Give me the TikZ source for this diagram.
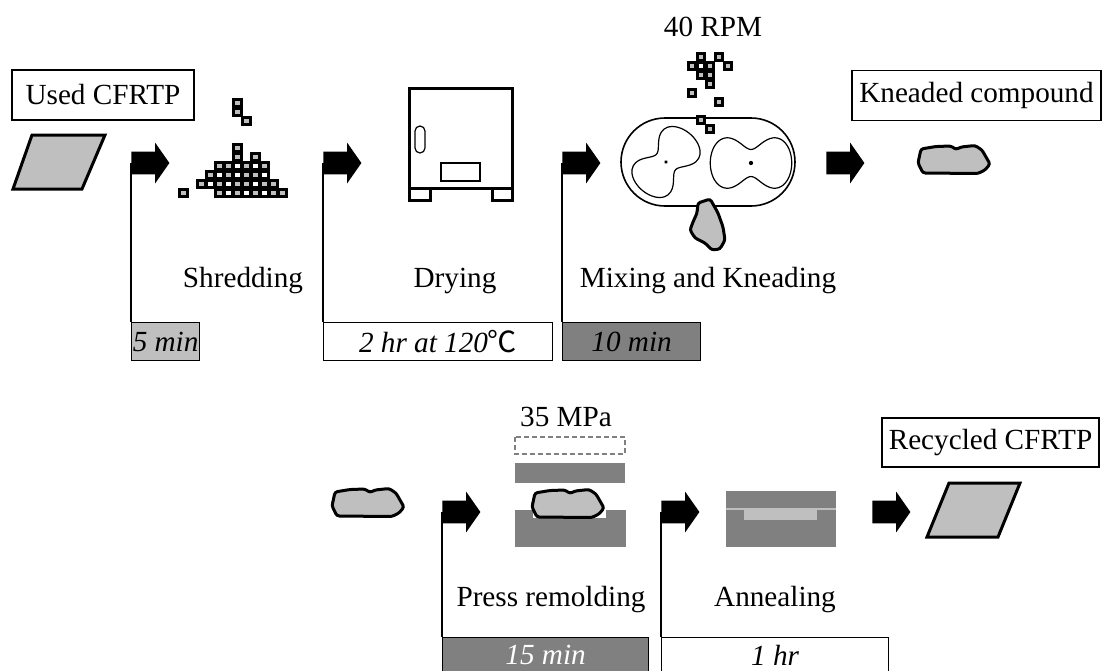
\documentclass[tikz,border=0pt]{standalone}
\usepackage{fontspec}
\setmainfont{Liberation Serif}
\newfontfamily\cjk{Noto Sans CJK JP}
\usetikzlibrary{shapes.arrows}

\definecolor{pale}{gray}{0.75}
\definecolor{dim}{gray}{0.5}

\begin{document}
\begin{tikzpicture}[x=0.5pt, y=-0.5pt,
  every node/.style={font=\fontsize{14.6}{16}\selectfont, inner sep=0pt},
  tag/.style={draw, line width=0.6pt, minimum height=25pt},
  timebar/.style={draw, line width=0.6pt, anchor=north west, minimum height=19pt, font=\fontsize{14.6}{16}\selectfont\itshape},
  flow/.style={single arrow, fill=black, anchor=tail, minimum height=19pt, inner xsep=0pt, inner ysep=5.5pt, single arrow head extend=4.5pt, single arrow tip angle=110},
  flag/.style={line width=0.6pt},
  bit/.style={draw, line width=1.5pt},
  chunk/.style={draw, line width=1.5pt, fill=pale, rounded corners=1.2pt},
  plate/.style={draw, line width=1.5pt, fill=pale},
  declare function={lobe(\t)=sqrt(8.462*cos(2*\t)+sqrt(84.29-71.61*sin(2*\t)^2));},
  lump/.pic={\draw[chunk] (3,4) -- (18,1.5) -- (33,1) -- (38,4.5) -- (43,2) -- (57,0.5) -- (64,5) -- (72,19) -- (67,25) -- (60,28.5) -- (5,28) -- (0,18) -- cycle;},
  rotor/.pic={\draw[line width=0.6pt] plot[domain=0:355, samples=72, smooth cycle] ({10*lobe(\x)*cos(\x)}, {16.5*lobe(\x)*sin(\x)});
    \fill (0,0) circle (1.1pt);},
  ]
\useasboundingbox (0,0) rectangle (1103,670);

% first row: shredding, drying, kneading
\node[tag, minimum width=91pt] (used) at (103,95) {Used CFRTP};
\draw[plate] (32,135) -- (105,135) -- (82,189) -- (13,189) -- cycle;

\node[flow] (a1) at (131,163) {};
\node[flow] (a2) at (323,163) {};
\node[flow] (a3) at (562,163) {};
\node[flow] (a4) at (826,163) {};

% shredded pieces
\foreach \i/\j/\c in {4/-5/pale, 4/-4/pale, 5/-3/pale,
    4/0/pale, 4/1/pale, 6/1/pale,
    2/2/pale, 3/2/pale, 4/2/white, 5/2/pale, 6/2/white, 7/2/pale,
    1/3/pale, 2/3/white, 3/3/pale, 4/3/white, 5/3/pale, 6/3/pale, 7/3/white,
    0/4/pale, 1/4/white, 2/4/pale, 3/4/white, 4/4/pale, 5/4/pale, 6/4/white, 7/4/pale, 8/4/pale,
    2/5/pale, 3/5/white, 4/5/pale, 5/5/white, 6/5/pale, 7/5/white, 8/5/pale, 9/5/pale, -2/5/pale}
  \filldraw[bit, fill=\c] ({197.5+9*\i},{144+9*\j}) rectangle +(7.5,7.5);
\node (shred) at (243,281) {Shredding};

% oven
\draw[line width=1.5pt] (409,88) rectangle (512,188);
\draw[line width=1.5pt] (409,188) rectangle (430,200) (492,188) rectangle (512,200);
\draw[line width=0.6pt, rounded corners=2.5pt] (415,126) rectangle (425,153);
\draw[line width=0.6pt] (441,163) rectangle (480,181);
\node (dry) at (455,281) {Drying};

% twin rotor mixer
\node (rpm) at (713,27) {40 RPM};
\draw[line width=0.8pt, rounded corners=22pt] (621,118) rectangle (795,206);
\pic[rotate=50, scale=0.88] at (666,162) {rotor};
\pic[scale=0.97] at (751,163) {rotor};
\foreach \i/\j/\c in {1/0/pale, 3/0/pale, 0/1/pale, 1/1/white, 2/1/pale, 4/1/pale,
    1/2/pale, 2/2/pale, 2/3/pale, 0/4/pale, 3/5/pale, 1/7/pale, 2/8/pale}
  \filldraw[bit, fill=\c] ({688+9*\i},{53+9*\j}) rectangle +(7.5,7.5);
\draw[chunk] (698,203) -- (710,199) -- (713,204) -- (718,213) -- (723,227) -- (725,240) -- (720,249) -- (712,250) -- (705,243) -- (695,238) -- (690,230) -- (693,222) -- (697,213) -- cycle;
\node (mix) at (708,281) {Mixing and Kneading};

\node[tag, minimum width=124.5pt] (kneaded) at (976.5,95.5) {Kneaded compound};
\pic at (918,145) {lump};

% processing times
\node[timebar, fill=pale, minimum width=34pt] (t1) at (131,322) {5 min};
\node[timebar, minimum width=114.5pt] (t2) at (323,322) {2 hr at 120{\cjk ℃}};
\node[timebar, fill=dim, minimum width=69pt] (t3) at (562,322) {10 min};
\draw[flag] (a1.tail) -- (a1.tail |- t1.north);
\draw[flag] (a2.tail) -- (a2.tail |- t2.north);
\draw[flag] (a3.tail) -- (a3.tail |- t3.north);

% second row: press remolding, annealing
\pic at (332,488) {lump};
\node[flow] (a5) at (442,512) {};
\node[flow] (a6) at (661,512) {};
\node[flow] (a7) at (872,512) {};

\node (mpa) at (566,417) {35 MPa};
\draw[gray, dashed, dash pattern=on 2.5pt off 1.5pt, line width=0.6pt] (515,437) rectangle (625,454);
\fill[dim] (515,463) rectangle (625,483);
\fill[dim] (515,510) rectangle (626,547);
\fill[white] (533,510) rectangle (606,518);
\pic at (532,489) {lump};
\node (press) at (551,600) {Press remolding};

\fill[dim] (726,491) rectangle (836,547);
\draw[pale, line width=0.6pt] (726,509) -- (836,509);
\fill[pale] (744,509) rectangle (817,520);
\node (anneal) at (775,600) {Annealing};

\node[tag, minimum width=108.5pt, minimum height=24.5pt] (recycled) at (990.5,442.5) {Recycled CFRTP};
\draw[plate] (949,483) -- (1020,483) -- (998,537) -- (927,537) -- cycle;

\node[timebar, fill=dim, text=white, minimum width=103pt, minimum height=17.5pt] (t4) at (442,637) {15 min};
\node[timebar, minimum width=113.5pt, minimum height=17.5pt] (t5) at (661,637) {1 hr};
\draw[flag] (a5.tail) -- (a5.tail |- t4.north);
\draw[flag] (a6.tail) -- (a6.tail |- t5.north);
\end{tikzpicture}
\end{document}
